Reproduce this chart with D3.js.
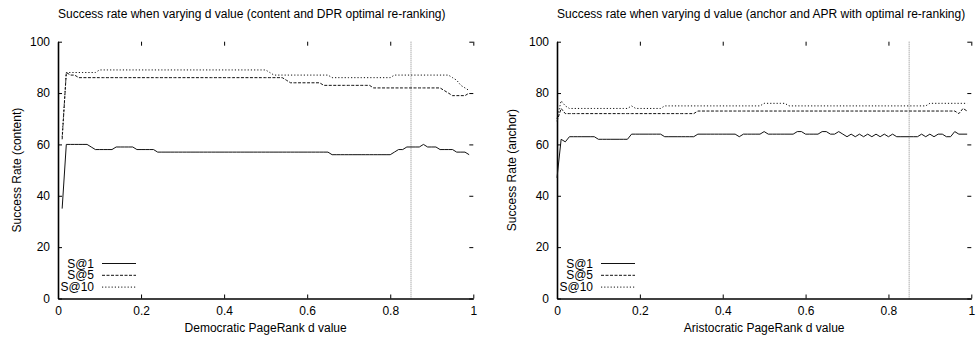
<!DOCTYPE html>
<html>
<head>
<meta charset="utf-8">
<script src="https://cdn.jsdelivr.net/npm/d3@7"></script>
<style>
  body { margin: 0; background: #fff; }
  svg { display: block; }
  text { font-family: "Liberation Sans", Arial, Helvetica, sans-serif; font-size: 12px; fill: #000; }
</style>
</head>
<body>
<svg id="chart" width="977" height="341"></svg>
<script>
// Damping factor grids (0.01 steps)
const dContent = d3.range(1, 100).map(i => i / 100);   // 0.01 .. 0.99
const dAnchor  = d3.range(0, 100).map(i => i / 100);   // 0.00 .. 0.99

// Success rates, content + Democratic PageRank
const contentS1 = [
  35,60,60,60,60,60,60,59,58,58,
  58,58,58,59,59,59,59,59,58,58,
  58,58,58,57,57,57,57,57,57,57,
  57,57,57,57,57,57,57,57,57,57,
  57,57,57,57,57,57,57,57,57,57,
  57,57,57,57,57,57,57,57,57,57,
  57,57,57,57,57,56,56,56,56,56,
  56,56,56,56,56,56,56,56,56,56,
  57,58,58,59,59,59,59,60,59,59,
  59,58,58,58,58,57,57,57,56
];
const contentS5 = [
  62,88,87,87,86,86,86,86,86,86,
  86,86,86,86,86,86,86,86,86,86,
  86,86,86,86,86,86,86,86,86,86,
  86,86,86,86,86,86,86,86,86,86,
  86,86,86,86,86,86,86,86,86,86,
  86,86,86,86,85,84,84,84,84,84,
  84,84,84,83,83,83,83,83,83,83,
  83,83,83,83,83,82,82,82,82,82,
  82,82,82,82,82,82,82,82,82,82,
  82,82,81,80,79,79,79,79,80
];
const contentS10 = [
  63,88,88,88,88,88,88,88,88,89,
  89,89,89,89,89,89,89,89,89,89,
  89,89,89,89,89,89,89,89,89,89,
  89,89,89,89,89,89,89,89,89,89,
  89,89,89,89,89,89,89,89,89,89,
  88,87,87,87,87,87,87,87,87,87,
  87,87,87,87,87,86,86,86,86,86,
  86,86,86,86,86,86,86,86,86,86,
  87,87,87,87,87,87,87,87,87,87,
  87,87,87,87,86,85,83,82,81
];

// Success rates, anchor + Aristocratic PageRank
const anchorS1 = [
  47,62,61,63,63,63,63,63,63,63,
  62,62,62,62,62,62,62,62,64,64,
  64,64,64,64,64,64,63,63,63,63,
  63,63,63,63,64,64,64,64,64,64,
  64,64,64,64,63,64,64,64,64,64,
  65,64,64,64,64,64,64,64,65,65,
  64,64,64,64,65,65,64,64,65,64,
  63,64,63,64,63,64,63,64,63,64,
  63,64,63,63,63,63,63,63,64,63,
  64,63,64,64,63,63,65,64,64,64
];
const anchorS5 = [
  69,74,72,72,72,72,72,72,72,72,
  72,72,72,72,72,72,72,72,72,72,
  72,72,72,72,72,72,72,72,72,72,
  72,72,72,72,73,73,73,73,73,73,
  73,73,73,73,73,73,73,73,73,73,
  73,73,73,73,73,73,73,73,73,73,
  73,73,73,73,73,73,73,73,73,73,
  73,73,73,73,73,73,73,73,73,73,
  73,73,73,73,73,73,73,73,73,73,
  73,73,73,73,73,73,73,72,74,73
];
const anchorS10 = [
  70,77,75,74,74,74,74,74,74,74,
  74,74,74,74,74,74,74,74,75,74,
  74,74,74,74,74,74,75,75,75,75,
  75,75,75,75,75,75,75,75,75,75,
  75,75,75,75,75,75,75,75,75,75,
  76,76,76,76,76,76,75,75,75,75,
  75,75,75,75,75,75,75,75,75,75,
  75,75,75,75,75,75,75,75,75,75,
  75,75,75,75,75,75,75,75,75,75,
  76,76,76,76,76,76,76,76,76,76
];

const seriesNames = ["S@1", "S@5", "S@10"];
const xTicks = [0, 0.2, 0.4, 0.6, 0.8, 1];
const yTicks = [0, 20, 40, 60, 80, 100];
const markerD = 0.85;

const titles = [
  "Success rate when varying d value (content and DPR optimal re-ranking)",
  "Success rate when varying d value (anchor and APR with optimal re-ranking)"
];
const xLabels = ["Democratic PageRank d value", "Aristocratic PageRank d value"];
const yLabels = ["Success Rate (content)", "Success Rate (anchor)"];

// Line styles per series
const dashes = [null, "3,1.5", "1.2,2"];

const svg = d3.select("#chart");

const panels = [
  { left: 58, right: 473.3, yLabelX: 21, d: dContent,
    series: [contentS1, contentS5, contentS10], title: titles[0], xLabel: xLabels[0], yLabel: yLabels[0] },
  { left: 557, right: 971.3, yLabelX: 515.5, d: dAnchor,
    series: [anchorS1, anchorS5, anchorS10], title: titles[1], xLabel: xLabels[1], yLabel: yLabels[1] }
];

const plotTop = 41.7, plotBottom = 298.5;

panels.forEach(p => {
  const g = svg.append("g");
  const x = d3.scaleLinear().domain([0, 1]).range([p.left, p.right]);
  const y = d3.scaleLinear().domain([0, 100]).range([plotBottom, plotTop]);

  // reference line at the default damping factor
  g.append("line")
    .attr("x1", x(markerD)).attr("x2", x(markerD))
    .attr("y1", y(100)).attr("y2", y(0))
    .attr("stroke", "#888").attr("stroke-width", 1)
    .attr("stroke-dasharray", "1,1");

  // axes with inward ticks; labels on bottom/left, mirrored ticks on top/right
  const axB = g.append("g").attr("transform", `translate(0,${plotBottom})`)
    .call(d3.axisBottom(x).tickValues(xTicks).tickFormat(d3.format("")).tickSizeInner(-4).tickSizeOuter(0).tickPadding(8));
  const axL = g.append("g").attr("transform", `translate(${p.left},0)`)
    .call(d3.axisLeft(y).tickValues(yTicks).tickSizeInner(-4).tickSizeOuter(0).tickPadding(8));
  const axT = g.append("g").attr("transform", `translate(0,${plotTop})`)
    .call(d3.axisTop(x).tickValues(xTicks).tickFormat("").tickSizeInner(-4).tickSizeOuter(0));
  const axR = g.append("g").attr("transform", `translate(${p.right},0)`)
    .call(d3.axisRight(y).tickValues(yTicks).tickFormat("").tickSizeInner(-4).tickSizeOuter(0));

  [axB, axL, axT, axR].forEach(a => {
    a.selectAll("text").attr("font-size", 12).attr("font-family", "Liberation Sans, Arial, sans-serif").attr("fill", "#000");
    a.selectAll(".tick line").attr("stroke", "#000").attr("stroke-width", 1);
  });
  axB.select(".domain").attr("stroke", "#000").attr("stroke-width", 1.6);
  axL.select(".domain").attr("stroke", "#000").attr("stroke-width", 1.6);
  axT.select(".domain").remove();
  axR.select(".domain").remove();

  // series lines
  p.series.forEach((vals, k) => {
    const line = d3.line().x((v, i) => x(p.d[i])).y(v => y(v));
    g.append("path").datum(vals)
      .attr("d", line)
      .attr("fill", "none")
      .attr("stroke", "#111")
      .attr("stroke-width", 1)
      .attr("stroke-dasharray", dashes[k]);
  });

  // legend (compact rows, as in the plot key)
  const lgX = p.left + 36;
  seriesNames.forEach((name, k) => {
    const by = 267.5 + k * 11.8;
    g.append("text").attr("x", lgX).attr("y", by).attr("text-anchor", "end")
      .attr("font-size", 11.5).text(name);
    g.append("line")
      .attr("x1", p.left + 44).attr("x2", p.left + 78)
      .attr("y1", by - 4).attr("y2", by - 4)
      .attr("stroke", "#111").attr("stroke-width", 1)
      .attr("stroke-dasharray", dashes[k]);
  });

  // titles and axis labels
  g.append("text").attr("x", p.left).attr("y", 17.5).attr("font-size", 12.3).text(p.title);
  g.append("text").attr("x", (p.left + p.right) / 2).attr("y", 331.5).attr("text-anchor", "middle").text(p.xLabel);
  g.append("text")
    .attr("transform", `translate(${p.yLabelX},${(plotTop + plotBottom) / 2}) rotate(-90)`)
    .attr("text-anchor", "middle").text(p.yLabel);
});
</script>
</body>
</html>
